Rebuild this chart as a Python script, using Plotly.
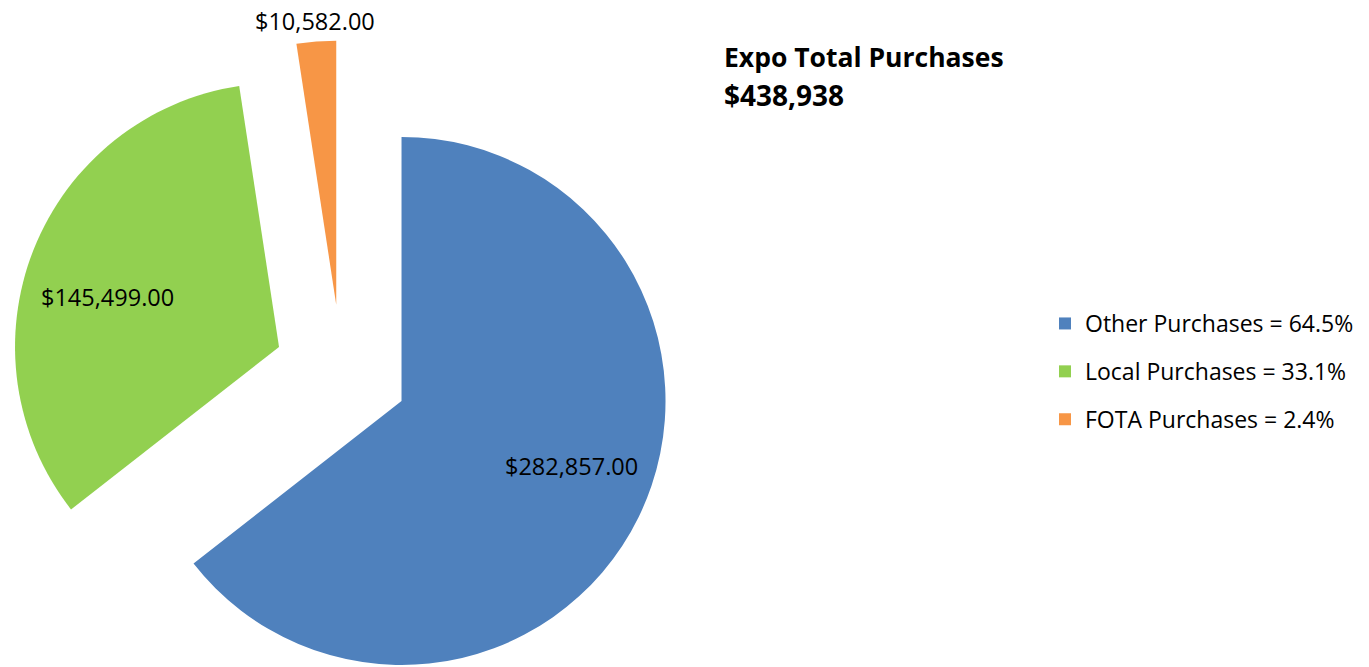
import math
import plotly.graph_objects as go

# Purchase totals by category
categories = ["Other Purchases", "Local Purchases", "FOTA Purchases"]
values = [282857, 145499, 10582]
legend_pcts = ["64.5%", "33.1%", "2.4%"]
colors = ["#4F81BD", "#92D050", "#F79646"]
title_text = "Expo Total Purchases"

W, H = 1369, 667
FONT = "Open Sans"
RADIUS = 264          # pie radius in px
EXPLODE = 67          # distance each slice is pulled out, px
CX, CY = 341.3, 371.6 # pie centre before exploding, px from top-left

# Data-label placement relative to each exploded slice's tip:
# radius as a fraction of RADIUS, and an angular nudge (degrees) off the mid-angle
LABEL_RADIUS = [0.69, 0.677, 1.078]
LABEL_NUDGE = [-5.0, -5.5, 0.0]

total = sum(values)
shares = [v / total for v in values]
legend_labels = [f"{c} = {p}" for c, p in zip(categories, legend_pcts)]

fig = go.Figure()

# One pie trace per slice, each shifted along its mid-angle so the slice
# appears exploded while every slice keeps the full radius.
start = 0.0
for i, share in enumerate(shares):
    mid = (start + share / 2) * 2 * math.pi  # clockwise from 12 o'clock
    start += share
    sx = CX + EXPLODE * math.sin(mid)
    sy = CY - EXPLODE * math.cos(mid)
    dom_x = [(sx - RADIUS) / W, (sx + RADIUS) / W]
    dom_y = [1 - (sy + RADIUS) / H, 1 - (sy - RADIUS) / H]
    slice_colors = [colors[j] if j == i else "rgba(0,0,0,0)" for j in range(len(values))]
    fig.add_trace(go.Pie(
        labels=legend_labels,
        values=values,
        sort=False,
        direction="clockwise",
        rotation=0,
        marker=dict(colors=slice_colors, line=dict(width=0)),
        textinfo="none",
        domain=dict(x=dom_x, y=dom_y),
        showlegend=False,
        hoverinfo="skip",
    ))

    # value label for this slice
    ang = mid + math.radians(LABEL_NUDGE[i])
    lr = LABEL_RADIUS[i] * RADIUS
    lx = sx + lr * math.sin(ang)
    ly = sy - lr * math.cos(ang)
    fig.add_annotation(
        x=lx / W, y=1 - ly / H, xref="paper", yref="paper",
        xanchor="center", yanchor="middle", showarrow=False,
        text=f"${values[i]:,.2f}",
        font=dict(family=FONT, size=23.5, color="#000000"),
    )

# Legend entries (tiny pies, one group per category for spacing)
for lab, col in zip(legend_labels, colors):
    fig.add_trace(go.Pie(
        labels=[lab],
        values=[1],
        marker=dict(colors=[col], line=dict(width=0)),
        textinfo="none",
        domain=dict(x=[0.9998, 0.99985], y=[0.9998, 0.99985]),
        legendgroup=lab,
        showlegend=True,
        hoverinfo="skip",
    ))

fig.add_annotation(
    x=722 / W, y=1 - 57 / H, xref="paper", yref="paper",
    xanchor="left", yanchor="middle", showarrow=False,
    text=f"<b>{title_text}</b>",
    font=dict(family=FONT, size=26.5, color="#000000"),
)
fig.add_annotation(
    x=722 / W, y=1 - 95 / H, xref="paper", yref="paper",
    xanchor="left", yanchor="middle", showarrow=False,
    text=f"<b>${total:,}</b>",
    font=dict(family=FONT, size=28, color="#000000"),
)

fig.update_layout(
    width=W, height=H,
    margin=dict(l=0, r=0, t=0, b=0),
    paper_bgcolor="white",
    plot_bgcolor="white",
    legend=dict(
        x=1045 / W, y=1 - 302 / H, xanchor="left", yanchor="top",
        font=dict(family=FONT, size=23, color="#000000"),
        traceorder="grouped",
        tracegroupgap=15,
        bgcolor="rgba(0,0,0,0)",
    ),
)

fig.write_html("out.html")
